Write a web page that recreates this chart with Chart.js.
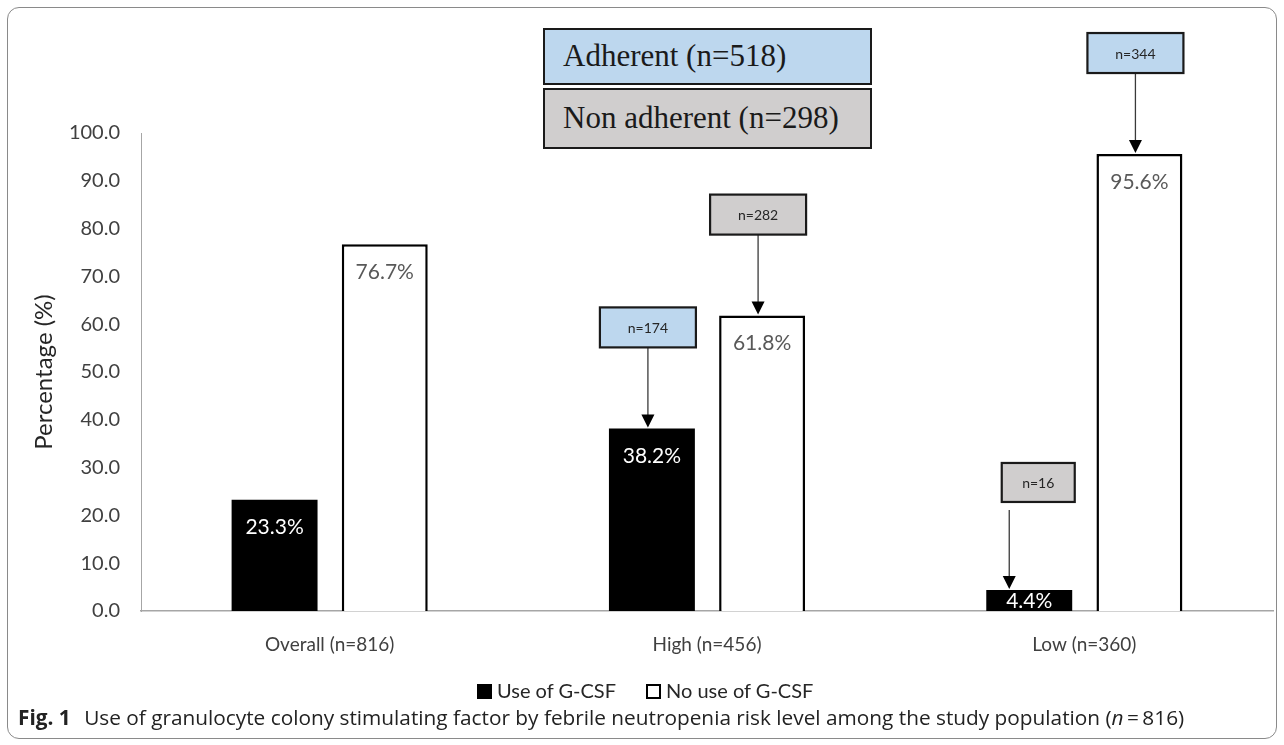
<!DOCTYPE html>
<html>
<head>
<meta charset="utf-8">
<script src="https://cdn.jsdelivr.net/npm/chart.js@4.4.1/dist/chart.umd.min.js"></script>
<style>
  html, body { margin: 0; padding: 0; background: #fff; }
  #wrap { position: relative; width: 1284px; height: 745px; overflow: hidden; }
  #frame { position: absolute; left: 7px; top: 7px; width: 1270px; height: 732px; border: 1.5px solid #8a8a8a; border-radius: 12px; box-sizing: border-box; }
  canvas { position: absolute; left: 0; top: 0; }
  .hdr { position: absolute; left: 543px; width: 329px; box-sizing: border-box; border: 2.5px solid #1a1a1a;
         font-family: "Liberation Serif", "Times New Roman", serif; font-size: 31px; color: #1a1a1a; padding-left: 18px; line-height: 52px; }
  #legend { position: absolute; left: 477px; top: 677px; font-family: Lato, sans-serif; font-size: 20px; line-height: 26px; color: #262626; white-space: nowrap; }
  #legend span.box { display: inline-block; width: 15px; height: 15px; box-sizing: border-box; vertical-align: -1px; margin-right: 5px; }
  #caption { position: absolute; left: 18px; top: 705px; font-family: "Open Sans", sans-serif; font-size: 16px; line-height: 24px; color: #222; white-space: nowrap; }
  #caption b { font-weight: bold; margin-right: 8px; }
</style>
</head>
<body>
<div id="wrap">
  <div id="frame"></div>
  <canvas id="c" width="1284" height="745"></canvas>
  <div class="hdr" style="top:28px;height:57px;background:#BDD7EE;">Adherent (n=518)</div>
  <div class="hdr" style="top:88px;height:61px;background:#D0CECE;line-height:56px;">Non adherent (n=298)</div>
  <div id="legend"></div>
  <div id="caption"><b>Fig. 1</b> Use of granulocyte colony stimulating factor by febrile neutropenia risk level among the study population (<i>n</i>&thinsp;=&thinsp;816)</div>
</div>
<script>
const categories = ['Overall (n=816)', 'High (n=456)', 'Low (n=360)'];
const useGCSF = [23.3, 38.2, 4.4];
const noUseGCSF = [76.7, 61.8, 95.6];
const seriesNames = ['Use of G-CSF', 'No use of G-CSF'];
const yMin = 0, yMax = 100, yStep = 10;
// annotation callouts
const calloutText = ['n=174', 'n=282', 'n=16', 'n=344'];
const calloutDataset = [0, 1, 0, 1];
const calloutCategory = [1, 1, 2, 2];
const calloutGroup = ['adherent', 'non', 'non', 'adherent'];

const FONT = 'Lato, "Open Sans", sans-serif';

const calloutPlugin = {
  id: 'callouts',
  afterDatasetsDraw(chart) {
    const ctx = chart.ctx;
    ctx.save();
    for (let i = 0; i < calloutText.length; i++) {
      const bar = chart.getDatasetMeta(calloutDataset[i]).data[calloutCategory[i]];
      const tipX = bar.x, tipY = bar.y;
      const small = calloutText[i].length < 5;
      const bw = small ? 73 : 96, bh = small ? 39 : 40;
      const gap = small ? 88 : 81;
      const boxX = small ? tipX + 9 : tipX - 4;
      const top = tipY - gap - bh;
      const ax = small ? tipX - 20 : boxX;
      const aStart = small ? tipY - gap + 8 : tipY - gap;
      ctx.strokeStyle = '#3a3a3a';
      ctx.lineWidth = 1.3;
      ctx.beginPath();
      ctx.moveTo(ax, aStart);
      ctx.lineTo(ax, tipY - 12);
      ctx.stroke();
      ctx.fillStyle = '#000';
      ctx.beginPath();
      ctx.moveTo(ax - 6.5, tipY - 14);
      ctx.lineTo(ax + 6.5, tipY - 14);
      ctx.lineTo(ax, tipY - 1);
      ctx.closePath();
      ctx.fill();
      ctx.fillStyle = calloutGroup[i] === 'adherent' ? '#BDD7EE' : '#D0CECE';
      ctx.fillRect(boxX - bw / 2, top, bw, bh);
      ctx.strokeStyle = '#1a1a1a';
      ctx.lineWidth = 2.2;
      ctx.strokeRect(boxX - bw / 2, top, bw, bh);
      ctx.fillStyle = '#262626';
      ctx.font = '14px ' + FONT;
      ctx.textAlign = 'center';
      ctx.textBaseline = 'middle';
      ctx.fillText(calloutText[i], boxX, top + bh / 2 + 1);
    }
    ctx.restore();
  }
};

const valueLabelPlugin = {
  id: 'valueLabels',
  afterDatasetsDraw(chart) {
    const ctx = chart.ctx;
    ctx.save();
    ctx.font = '21px ' + FONT;
    ctx.textAlign = 'center';
    ctx.textBaseline = 'middle';
    chart.data.datasets.forEach((ds, di) => {
      chart.getDatasetMeta(di).data.forEach((bar, i) => {
        ctx.fillStyle = di === 0 ? '#ffffff' : '#595959';
        const y = Math.min(bar.y + 28, (bar.y + bar.base) / 2 + 1);
        ctx.fillText(ds.data[i].toFixed(1) + '%', bar.x, y);
      });
    });
    ctx.restore();
  }
};

const chart = new Chart(document.getElementById('c'), {
  type: 'bar',
  data: {
    labels: categories,
    datasets: [
      { label: seriesNames[0], data: useGCSF, backgroundColor: '#000000', borderColor: '#000000', borderWidth: 0,
        categoryPercentage: 0.584, barPercentage: 0.78 },
      { label: seriesNames[1], data: noUseGCSF, backgroundColor: '#ffffff', borderColor: '#000000', borderWidth: 2.5,
        categoryPercentage: 0.584, barPercentage: 0.78 }
    ]
  },
  options: {
    responsive: false,
    animation: false,
    devicePixelRatio: 1,
    layout: { padding: { left: 30, top: 133, right: 11, bottom: 0 } },
    plugins: {
      legend: { display: false },
      tooltip: { enabled: false }
    },
    scales: {
      x: {
        grid: { display: false, drawTicks: false },
        border: { display: true, color: '#a6a6a6', width: 1.5 },
        ticks: { font: { family: FONT, size: 19 }, color: '#404040', padding: 22 },
        afterFit(s) { s.height = 134; }
      },
      y: {
        min: yMin, max: yMax,
        grid: { display: false, drawTicks: false },
        border: { display: true, color: '#a6a6a6', width: 1 },
        ticks: { stepSize: yStep, font: { family: FONT, size: 20 }, color: '#404040', padding: 21,
                 callback: v => v.toFixed(1) },
        title: { display: true, text: 'Percentage (%)', font: { family: FONT, size: 24 }, color: '#262626', padding: { top: 0, bottom: 0 } },
        afterFit(s) { s.width = 111; }
      }
    }
  },
  plugins: [calloutPlugin, valueLabelPlugin]
});

// HTML legend built from the chart's datasets
const legendEl = document.getElementById('legend');
chart.data.datasets.forEach((ds, i) => {
  const item = document.createElement('span');
  item.style.marginRight = i === 0 ? '30px' : '0';
  const box = document.createElement('span');
  box.className = 'box';
  box.style.background = ds.backgroundColor;
  box.style.border = '2px solid #000';
  item.appendChild(box);
  item.appendChild(document.createTextNode(ds.label));
  legendEl.appendChild(item);
});

// fit caption width to reference (~1169px)
const cap = document.getElementById('caption');
const w = cap.getBoundingClientRect().width;
cap.style.fontSize = (16 * 1169 / w).toFixed(2) + 'px';
</script>
</body>
</html>
